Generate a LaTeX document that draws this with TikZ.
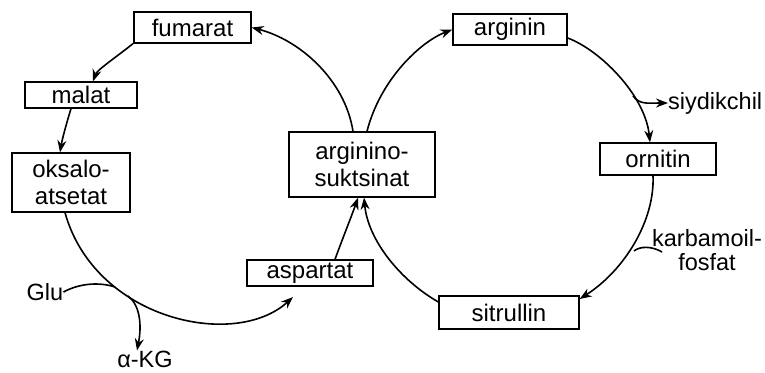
\documentclass[tikz,border=0pt]{standalone}
\usepackage{fontspec}
\setmainfont{Liberation Sans}
\usetikzlibrary{arrows.meta}
\begin{document}
\begin{tikzpicture}[x=1pt,y=-1pt,
  box/.style={draw,line width=1.3pt,inner sep=0pt,align=center,font=\fontsize{24}{27}\selectfont},
  lbl/.style={inner sep=0pt,align=center,font=\fontsize{23.5}{24}\selectfont},
  con/.style={line width=1.6pt},
  arr/.style={con,-{Stealth[length=12pt,width=9pt]}}]
\useasboundingbox (0,0) rectangle (765,372);
\node[box,minimum width=117pt,minimum height=31pt] (fum) at (192.5,27.5) {fumarat};
\node[box,minimum width=112pt,minimum height=26pt] (mal) at (81,95) {malat};
\node[box,minimum width=118pt,minimum height=59pt] (oks) at (71,182.5) {oksalo-\\atsetat};
\node[box,minimum width=146pt,minimum height=65pt] (ags) at (362,164.5) {arginino-\\suktsinat};
\node[box,minimum width=126pt,minimum height=26pt] (asp) at (310,273) {aspartat};
\node[box,minimum width=114pt,minimum height=31pt] (arg) at (510,29.5) {arginin};
\node[box,minimum width=116pt,minimum height=32pt] (orn) at (658,159) {ornitin};
\node[box,minimum width=140pt,minimum height=33pt] (sit) at (509,312.5) {sitrullin};
\node[lbl,anchor=west] (siy) at (668,103) {siydikchil};
\node[lbl] (kar) at (707,250) {karbamoil-\\fosfat};
\node[lbl] (glu) at (45,292) {Glu};
\node[lbl] (akg) at (145,359) {α-KG};
% coordinates on the curves
\coordinate (j1) at (115,287);
\coordinate (j2) at (128,296);
\coordinate (j3) at (633,96);
\coordinate (j4) at (634,251);
\coordinate (k0) at (662,252);
% left cycle
\draw[arr] (ags.north west -| 353,0) .. controls (345,80) and (300,40) .. (fum.east);
\draw[arr] (fum.south west -| 133,0) .. controls (115,58) and (97,70) .. (mal.north -| 93,0);
\draw[arr] (mal.south -| 71,0) .. controls (66,125) and (62,140) .. (oks.north -| 60,0);
\draw[arr] (oks.south -| 65,0) .. controls (95,320) and (235,350) .. (293,297);
\draw[con] (glu.east) .. controls (80,283) and (100,282) .. (j1);
\draw[arr] (j2) .. controls (140,305) and (142,325) .. (akg.north -| 137,0);
\draw[arr] (asp.north -| 335,0) .. controls (342,240) and (352,215) .. (ags.south -| 358,0);
% right cycle
\draw[arr] (ags.north -| 367,0) .. controls (380,80) and (420,42) .. (arg.west);
\draw[arr] (arg.east |- 0,38) .. controls (600,50) and (645,95) .. (orn.north -| 650,0);
\draw[arr] (j3) .. controls (640,105) and (648,103) .. (siy.west);
\draw[arr] (orn.south -| 653,0) .. controls (655,220) and (625,270) .. (sit.north east |- 0,299);
\draw[con] (k0) .. controls (652,246) and (640,246) .. (j4);
\draw[arr] (sit.north west |- 0,302) .. controls (400,280) and (368,240) .. (ags.south -| 364,0);
\end{tikzpicture}
\end{document}
